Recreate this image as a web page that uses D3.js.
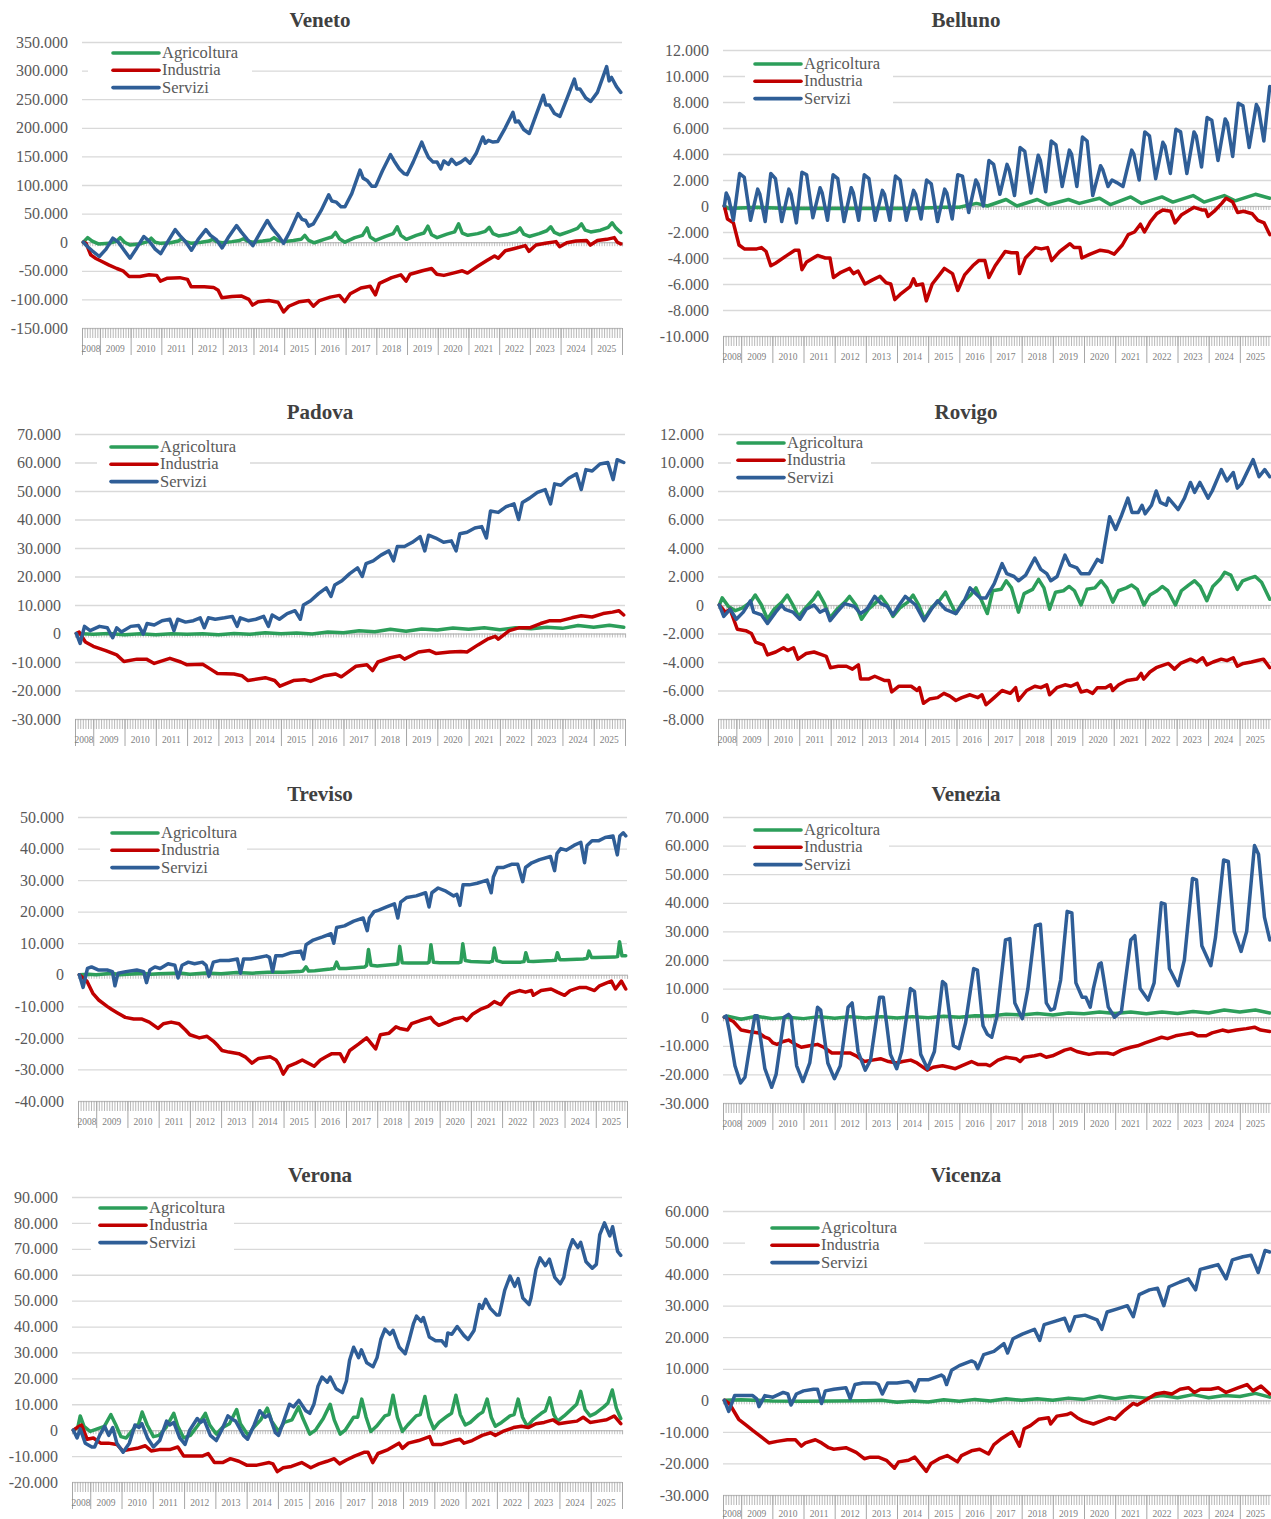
<!DOCTYPE html>
<html>
<head>
<meta charset="utf-8">
<script src="https://cdn.jsdelivr.net/npm/d3@7"></script>
<style>
  body { margin: 0; background: #fff; }
  svg { display: block; }
</style>
</head>
<body>
<div id="chart"></div>
<script>
// saldo cumulato posizioni lavorative dal giugno 2008, migliaia
// each point: [time in decimal years, value in thousands]
var seriesNames = ["Agricoltura", "Industria", "Servizi"],
    seriesColors = ["#2c9e5a", "#c00000", "#2f5e97"];

var yearLabels = d3.range(2008, 2026);

var venetoAgr = [[2008.46,0],[2008.6,8],[2008.75,2],[2008.95,-3],[2009.3,-2],[2009.55,2],[2009.66,8],[2009.8,0],[2009.98,-5],[2010.3,-3],[2010.55,1],[2010.67,7],[2010.8,0],[2010.98,-2],[2011.3,-1],[2011.55,2],[2011.67,6],[2011.8,1],[2011.98,-2],[2012.3,0],[2012.55,2],[2012.67,5],[2012.8,1],[2012.98,-1],[2013.3,1],[2013.55,3],[2013.67,6],[2013.8,2],[2013.98,0],[2014.3,2],[2014.55,4],[2014.67,8],[2014.8,3],[2014.98,1],[2015.3,3],[2015.55,5],[2015.67,12],[2015.8,3],[2015.98,-1],[2016.3,5],[2016.55,9],[2016.67,17],[2016.8,6],[2016.98,0],[2017.3,8],[2017.55,12],[2017.7,25],[2017.8,9],[2017.98,3],[2018.3,10],[2018.55,15],[2018.68,27],[2018.8,12],[2018.98,5],[2019.3,12],[2019.55,16],[2019.68,28],[2019.8,13],[2019.98,8],[2020.3,14],[2020.55,18],[2020.68,32],[2020.8,16],[2020.98,12],[2021.3,15],[2021.55,19],[2021.68,26],[2021.8,15],[2021.98,11],[2022.3,14],[2022.55,18],[2022.68,25],[2022.8,14],[2022.98,10],[2023.3,15],[2023.55,20],[2023.68,27],[2023.8,17],[2023.98,13],[2024.3,19],[2024.55,24],[2024.68,32],[2024.8,21],[2024.98,18],[2025.3,21],[2025.55,26],[2025.68,34],[2025.8,25],[2025.96,17]];
var venetoInd = [[2008.46,0],[2008.55,-2],[2008.7,-22],[2008.85,-28],[2009.0,-32],[2009.3,-40],[2009.55,-46],[2009.75,-50],[2009.95,-60],[2010.3,-60],[2010.6,-57],[2010.85,-58],[2010.97,-68],[2011.2,-63],[2011.6,-62],[2011.85,-65],[2011.97,-78],[2012.4,-78],[2012.7,-79],[2012.85,-84],[2012.97,-97],[2013.3,-95],[2013.6,-94],[2013.85,-100],[2013.97,-110],[2014.15,-104],[2014.5,-102],[2014.8,-105],[2014.98,-122],[2015.15,-112],[2015.5,-104],[2015.8,-102],[2015.95,-112],[2016.15,-102],[2016.5,-96],[2016.8,-93],[2016.97,-104],[2017.15,-90],[2017.5,-80],[2017.8,-77],[2017.97,-92],[2018.1,-72],[2018.5,-62],[2018.8,-57],[2018.97,-68],[2019.1,-56],[2019.5,-50],[2019.8,-46],[2019.97,-56],[2020.2,-58],[2020.5,-54],[2020.8,-50],[2020.97,-54],[2021.3,-42],[2021.6,-32],[2021.85,-24],[2021.97,-28],[2022.2,-15],[2022.5,-11],[2022.85,-6],[2022.97,-16],[2023.2,-5],[2023.5,-2],[2023.85,1],[2023.97,-8],[2024.2,-1],[2024.5,2],[2024.85,3],[2024.97,-5],[2025.2,3],[2025.5,5],[2025.75,8],[2025.85,0],[2025.96,-3]];
var venetoSer = [[2008.46,0],[2008.6,-8],[2008.75,-15],[2008.98,-25],[2009.2,-12],[2009.42,7],[2009.6,0],[2009.8,-15],[2009.98,-28],[2010.2,-10],[2010.43,10],[2010.6,2],[2010.8,-12],[2010.98,-20],[2011.2,0],[2011.45,22],[2011.6,12],[2011.8,0],[2011.98,-14],[2012.2,5],[2012.45,22],[2012.6,12],[2012.8,4],[2012.98,-10],[2013.2,10],[2013.45,29],[2013.6,18],[2013.8,5],[2013.98,-6],[2014.2,15],[2014.45,38],[2014.6,25],[2014.8,12],[2014.98,-2],[2015.2,20],[2015.45,50],[2015.58,40],[2015.7,38],[2015.8,28],[2015.95,32],[2016.2,55],[2016.45,83],[2016.55,72],[2016.7,70],[2016.85,62],[2016.98,62],[2017.2,85],[2017.47,126],[2017.57,112],[2017.7,108],[2017.85,98],[2017.98,98],[2018.2,125],[2018.46,153],[2018.58,142],[2018.75,128],[2018.9,120],[2019.0,118],[2019.2,140],[2019.48,175],[2019.57,163],[2019.7,148],[2019.85,140],[2019.98,140],[2020.1,128],[2020.2,142],[2020.35,136],[2020.45,145],[2020.6,136],[2020.75,140],[2020.9,146],[2021.05,138],[2021.25,155],[2021.47,184],[2021.55,173],[2021.65,178],[2021.8,175],[2021.95,176],[2022.2,200],[2022.45,227],[2022.53,210],[2022.63,212],[2022.8,197],[2022.98,190],[2023.2,222],[2023.44,257],[2023.52,240],[2023.63,240],[2023.8,225],[2023.98,220],[2024.2,250],[2024.45,285],[2024.53,268],[2024.63,268],[2024.82,252],[2024.98,246],[2025.2,262],[2025.5,307],[2025.58,282],[2025.66,288],[2025.82,272],[2025.96,262]];

var bellunoAgr = [[2008.46,0],[2008.6,-0.2],[2009.5,-0.1],[2010.5,-0.2],[2011.5,-0.2],[2012.5,-0.2],[2013.5,-0.2],[2014.5,-0.2],[2015.5,-0.1],[2016.0,-0.1],[2016.55,0.2],[2016.9,0.0],[2017.5,0.5],[2017.85,0.0],[2018.5,0.5],[2018.85,0.1],[2019.5,0.5],[2019.85,0.2],[2020.5,0.6],[2020.85,0.1],[2021.5,0.7],[2021.85,0.2],[2022.5,0.7],[2022.85,0.3],[2023.5,0.8],[2023.85,0.3],[2024.5,0.8],[2024.85,0.4],[2025.5,0.9],[2025.96,0.6]];
var bellunoInd = [[2008.46,0],[2008.56,-1.0],[2008.75,-1.3],[2008.93,-3.0],[2009.1,-3.3],[2009.5,-3.3],[2009.65,-3.2],[2009.8,-3.5],[2009.95,-4.6],[2010.1,-4.4],[2010.47,-3.8],[2010.72,-3.4],[2010.85,-3.4],[2010.95,-4.9],[2011.1,-4.3],[2011.45,-3.8],[2011.7,-4.0],[2011.85,-4.0],[2011.96,-5.5],[2012.2,-5.1],[2012.48,-4.8],[2012.6,-5.2],[2012.75,-5.0],[2012.97,-6.0],[2013.2,-5.7],[2013.45,-5.4],[2013.65,-5.9],[2013.8,-6.0],[2013.93,-7.2],[2014.1,-6.8],[2014.42,-6.2],[2014.53,-5.6],[2014.62,-6.1],[2014.82,-6.0],[2014.94,-7.3],[2015.13,-6.0],[2015.39,-5.2],[2015.52,-4.8],[2015.78,-5.2],[2015.95,-6.5],[2016.17,-5.3],[2016.43,-4.6],[2016.62,-4.2],[2016.82,-4.2],[2016.95,-5.5],[2017.15,-4.6],[2017.47,-3.5],[2017.67,-3.6],[2017.86,-3.6],[2017.93,-5.2],[2018.12,-4.0],[2018.44,-3.2],[2018.63,-3.3],[2018.83,-3.2],[2018.96,-4.2],[2019.22,-3.5],[2019.55,-2.9],[2019.68,-3.2],[2019.87,-3.2],[2019.93,-4.0],[2020.2,-3.7],[2020.52,-3.4],[2020.78,-3.5],[2020.97,-3.7],[2021.23,-3.0],[2021.42,-2.2],[2021.62,-2.0],[2021.81,-1.4],[2021.94,-2.0],[2022.13,-1.2],[2022.33,-0.6],[2022.53,-0.3],[2022.78,-0.4],[2022.92,-1.3],[2023.12,-0.7],[2023.53,-0.1],[2023.78,-0.3],[2023.9,-0.3],[2023.98,-0.8],[2024.18,-0.4],[2024.42,0.2],[2024.56,0.6],[2024.77,0.3],[2024.93,-0.5],[2025.12,-0.4],[2025.4,-0.6],[2025.58,-1.1],[2025.78,-1.3],[2025.96,-2.2]];
var bellunoSer = [[2008.46,0],[2008.52,1.0],[2008.6,0.6],[2008.75,-1.1],[2008.95,2.5],[2009.1,2.2],[2009.3,-1.1],[2009.53,1.3],[2009.6,0.9],[2009.77,-1.2],[2009.95,2.5],[2010.1,2.1],[2010.3,-1.2],[2010.53,1.3],[2010.6,0.9],[2010.77,-1.3],[2010.95,2.6],[2011.1,2.4],[2011.3,-0.9],[2011.53,1.4],[2011.6,1.0],[2011.77,-1.1],[2011.95,2.4],[2012.1,2.1],[2012.3,-1.2],[2012.53,1.4],[2012.6,1.0],[2012.77,-1.1],[2012.95,2.4],[2013.1,2.1],[2013.3,-1.1],[2013.53,1.2],[2013.6,0.9],[2013.77,-1.1],[2013.95,2.3],[2014.1,2.0],[2014.3,-1.1],[2014.53,1.2],[2014.6,0.9],[2014.77,-1.0],[2014.95,2.0],[2015.1,1.7],[2015.3,-1.2],[2015.53,1.3],[2015.6,1.0],[2015.77,-1.0],[2015.95,2.4],[2016.1,2.3],[2016.3,-0.5],[2016.53,2.0],[2016.6,1.7],[2016.77,0.0],[2016.95,3.5],[2017.1,3.2],[2017.3,0.9],[2017.53,3.2],[2017.6,2.8],[2017.77,0.8],[2017.95,4.5],[2018.1,4.2],[2018.3,1.0],[2018.53,3.9],[2018.6,3.5],[2018.77,1.1],[2018.95,5.0],[2019.1,4.7],[2019.3,1.5],[2019.53,4.3],[2019.6,4.0],[2019.77,1.5],[2019.95,5.3],[2020.1,5.0],[2020.28,0.8],[2020.53,3.1],[2020.6,2.8],[2020.77,1.5],[2020.9,2.0],[2021.05,1.8],[2021.25,1.5],[2021.53,4.3],[2021.6,4.0],[2021.77,2.0],[2021.95,5.7],[2022.1,5.4],[2022.3,2.1],[2022.53,4.9],[2022.6,4.6],[2022.77,2.5],[2022.95,5.9],[2023.1,5.7],[2023.3,2.5],[2023.53,5.7],[2023.6,5.4],[2023.77,3.0],[2023.95,6.8],[2024.1,6.6],[2024.3,3.5],[2024.53,6.7],[2024.6,6.4],[2024.77,3.8],[2024.95,7.9],[2025.1,7.7],[2025.3,4.5],[2025.53,7.8],[2025.6,7.5],[2025.77,5.0],[2025.96,9.2]];

var padovaAgr = [[2008.46,0],[2009.0,-0.3],[2009.5,0],[2010.0,-0.4],[2010.5,-0.1],[2011.0,-0.4],[2011.5,-0.1],[2012.0,-0.3],[2012.5,-0.1],[2013.0,-0.4],[2013.5,0],[2014.0,-0.3],[2014.5,0.3],[2015.0,-0.1],[2015.5,0.2],[2016.0,-0.2],[2016.5,0.5],[2017.0,0.3],[2017.5,1.0],[2018.0,0.6],[2018.5,1.5],[2019.0,0.8],[2019.5,1.6],[2020.0,1.2],[2020.5,1.9],[2021.0,1.5],[2021.5,2.0],[2022.0,1.3],[2022.5,2.0],[2023.0,1.7],[2023.5,2.2],[2024.0,1.8],[2024.5,2.8],[2025.0,2.2],[2025.5,2.9],[2025.96,2.2]];
var padovaInd = [[2008.46,0],[2008.55,0.5],[2008.75,-3],[2009.0,-4.5],[2009.4,-6],[2009.75,-7.5],[2009.98,-9.8],[2010.4,-9],[2010.7,-9],[2010.95,-10.5],[2011.45,-8.7],[2011.8,-10],[2012.0,-11],[2012.5,-10.8],[2012.75,-12.5],[2012.97,-14],[2013.5,-14.2],[2013.75,-14.8],[2013.95,-16.5],[2014.5,-15.5],[2014.8,-16.5],[2014.97,-18.5],[2015.4,-16.5],[2015.75,-16.2],[2015.95,-16.8],[2016.4,-14.8],[2016.75,-14.2],[2016.93,-15.2],[2017.4,-11.5],[2017.75,-11],[2017.93,-13],[2018.1,-10],[2018.5,-8.5],[2018.8,-7.8],[2018.95,-9],[2019.4,-6.5],[2019.75,-6],[2019.95,-7],[2020.4,-6.5],[2020.75,-6.3],[2020.95,-6.5],[2021.3,-4],[2021.6,-2],[2021.85,-1],[2021.95,-2],[2022.3,1],[2022.6,2],[2022.95,2],[2023.3,3.5],[2023.6,4.5],[2023.95,4.5],[2024.3,5.5],[2024.6,6.2],[2024.95,5.8],[2025.3,7],[2025.6,7.5],[2025.8,8],[2025.96,6.5]];
var padovaSer = [[2008.46,0],[2008.58,-3.5],[2008.72,2.5],[2008.9,1.0],[2009.2,2.5],[2009.45,2.0],[2009.62,-1.5],[2009.75,2.0],[2009.9,0.5],[2010.2,2.5],[2010.45,2.8],[2010.6,-0.2],[2010.72,3.5],[2010.95,3.0],[2011.2,4.5],[2011.45,5.0],[2011.58,1.0],[2011.7,5.0],[2011.95,4.0],[2012.2,4.5],[2012.42,5.5],[2012.55,2.0],[2012.68,5.5],[2012.9,5.0],[2013.2,5.5],[2013.45,6.0],[2013.6,2.5],[2013.7,5.5],[2013.95,4.5],[2014.2,5.0],[2014.45,6.0],[2014.6,2.5],[2014.72,6.5],[2014.95,5.0],[2015.2,7.0],[2015.45,8.0],[2015.62,5.0],[2015.72,10.0],[2015.95,11.5],[2016.2,14.0],[2016.45,16.0],[2016.6,13.0],[2016.72,17.0],[2016.95,18.5],[2017.2,21.0],[2017.45,23.0],[2017.6,20.0],[2017.72,24.5],[2017.95,25.5],[2018.2,27.5],[2018.45,29.0],[2018.6,25.5],[2018.72,30.5],[2018.95,30.5],[2019.2,32.0],[2019.45,34.0],[2019.6,29.0],[2019.72,34.5],[2019.95,33.5],[2020.2,32.0],[2020.45,32.5],[2020.6,29.0],[2020.72,35.0],[2020.95,35.5],[2021.2,37.0],[2021.42,37.5],[2021.57,33.5],[2021.7,43.0],[2021.95,42.5],[2022.2,44.5],[2022.45,45.5],[2022.6,40.0],[2022.72,46.0],[2022.95,47.5],[2023.2,49.5],[2023.45,50.5],[2023.62,45.5],[2023.75,52.5],[2023.95,52.0],[2024.2,54.5],[2024.45,56.0],[2024.6,50.5],[2024.75,57.5],[2024.95,57.0],[2025.2,59.5],[2025.45,60.0],[2025.62,54.0],[2025.75,61.0],[2025.96,60.0]];

var rovigoAgr = [[2008.46,0],[2008.55,0.5],[2008.75,-0.1],[2008.97,-0.4],[2009.2,-0.2],[2009.45,0.2],[2009.6,0.7],[2009.8,0.0],[2009.99,-1.0],[2010.2,-0.3],[2010.45,0.2],[2010.62,0.7],[2010.8,0.0],[2010.98,-0.8],[2011.2,-0.2],[2011.45,0.4],[2011.6,0.9],[2011.8,0.1],[2011.98,-0.9],[2012.2,-0.3],[2012.45,0.2],[2012.6,0.6],[2012.8,0.0],[2012.98,-1.0],[2013.2,-0.3],[2013.45,0.2],[2013.6,0.6],[2013.8,0.0],[2013.98,-0.8],[2014.2,-0.2],[2014.45,0.2],[2014.62,0.7],[2014.8,0.0],[2014.98,-1.0],[2015.2,-0.2],[2015.45,0.3],[2015.65,0.9],[2015.82,0.1],[2015.98,-0.6],[2016.2,0.2],[2016.45,0.7],[2016.62,1.2],[2016.8,0.3],[2016.98,-0.6],[2017.15,1.0],[2017.42,1.1],[2017.58,1.7],[2017.75,1.2],[2017.97,-0.5],[2018.15,0.8],[2018.42,1.1],[2018.61,1.8],[2018.78,1.2],[2018.96,-0.3],[2019.15,0.9],[2019.4,1.0],[2019.58,1.3],[2019.75,1.0],[2019.96,0.0],[2020.15,1.1],[2020.4,1.2],[2020.6,1.7],[2020.78,1.2],[2020.97,0.2],[2021.15,1.0],[2021.4,1.2],[2021.57,1.4],[2021.75,1.1],[2021.96,0.0],[2022.15,0.7],[2022.38,1.0],[2022.54,1.3],[2022.72,1.0],[2022.96,0.0],[2023.15,1.0],[2023.38,1.4],[2023.57,1.7],[2023.75,1.3],[2023.96,0.3],[2024.15,1.3],[2024.38,1.8],[2024.53,2.3],[2024.72,2.1],[2024.93,1.1],[2025.1,1.7],[2025.35,1.9],[2025.5,2.0],[2025.7,1.6],[2025.96,0.4]];
var rovigoInd = [[2008.46,0],[2008.65,-0.5],[2008.8,-0.3],[2009.03,-1.7],[2009.3,-1.8],[2009.48,-2.0],[2009.61,-2.6],[2009.86,-2.8],[2009.99,-3.5],[2010.25,-3.3],[2010.5,-3.0],[2010.63,-3.2],[2010.82,-3.0],[2010.96,-3.8],[2011.22,-3.4],[2011.47,-3.3],[2011.73,-3.5],[2011.86,-3.6],[2011.99,-4.4],[2012.24,-4.3],[2012.5,-4.3],[2012.69,-4.5],[2012.88,-4.2],[2012.95,-5.2],[2013.2,-5.2],[2013.4,-5.0],[2013.72,-5.3],[2013.85,-5.3],[2013.94,-6.1],[2014.17,-5.7],[2014.56,-5.7],[2014.75,-6.0],[2014.82,-5.8],[2014.95,-6.9],[2015.14,-6.6],[2015.4,-6.5],[2015.6,-6.2],[2015.79,-6.4],[2015.98,-6.7],[2016.17,-6.5],[2016.43,-6.3],[2016.68,-6.5],[2016.81,-6.3],[2016.94,-7.0],[2017.2,-6.5],[2017.45,-6.0],[2017.71,-6.2],[2017.88,-5.8],[2017.97,-6.7],[2018.23,-6.0],[2018.49,-5.7],[2018.68,-5.8],[2018.87,-5.6],[2018.96,-6.3],[2019.19,-5.8],[2019.45,-5.6],[2019.64,-5.7],[2019.84,-5.5],[2019.96,-6.1],[2020.15,-6.0],[2020.33,-6.2],[2020.48,-5.8],[2020.74,-5.8],[2020.9,-5.6],[2020.97,-6.0],[2021.16,-5.6],[2021.42,-5.3],[2021.74,-5.2],[2021.87,-4.8],[2021.95,-5.2],[2022.15,-4.7],[2022.35,-4.4],[2022.6,-4.2],[2022.74,-4.1],[2022.93,-4.5],[2023.12,-4.1],[2023.44,-3.8],[2023.64,-4.0],[2023.83,-3.7],[2023.96,-4.2],[2024.16,-4.0],[2024.42,-3.8],[2024.6,-3.9],[2024.8,-3.7],[2024.93,-4.3],[2025.12,-4.1],[2025.38,-4.0],[2025.57,-3.9],[2025.76,-3.8],[2025.96,-4.4]];
var rovigoSer = [[2008.46,0],[2008.6,-0.8],[2008.8,-0.3],[2009.0,-1.0],[2009.22,-0.5],[2009.45,0.3],[2009.55,-0.5],[2009.8,-0.7],[2009.99,-1.3],[2010.25,-0.5],[2010.44,0.0],[2010.55,-0.3],[2010.8,-0.5],[2011.02,-1.0],[2011.22,-0.3],[2011.47,0.0],[2011.66,-0.5],[2011.85,-0.3],[2011.98,-1.1],[2012.2,-0.5],[2012.44,0.1],[2012.75,-0.1],[2012.95,-0.6],[2013.15,-0.3],[2013.4,0.6],[2013.6,0.1],[2013.8,-0.1],[2013.98,-0.7],[2014.18,0.0],[2014.37,0.6],[2014.7,0.0],[2014.97,-1.1],[2015.2,-0.3],[2015.4,0.3],[2015.65,-0.3],[2015.98,-0.6],[2016.23,0.2],[2016.43,1.2],[2016.75,0.5],[2016.94,0.5],[2017.2,1.5],[2017.45,2.9],[2017.6,2.2],[2017.83,2.0],[2017.97,1.7],[2018.2,2.1],[2018.49,3.3],[2018.68,2.5],[2018.87,2.2],[2019.0,1.7],[2019.2,2.0],[2019.45,3.5],[2019.6,2.8],[2019.83,2.6],[2019.96,2.2],[2020.22,2.2],[2020.48,3.2],[2020.62,3.0],[2020.87,6.2],[2021.06,5.3],[2021.25,6.3],[2021.45,7.5],[2021.58,6.5],[2021.78,6.5],[2021.9,7.0],[2022.0,6.4],[2022.2,7.0],[2022.35,8.0],[2022.48,7.2],[2022.67,7.0],[2022.74,7.5],[2023.05,6.7],[2023.25,7.5],[2023.44,8.6],[2023.57,7.9],[2023.74,8.6],[2024.0,7.5],[2024.13,8.0],[2024.42,9.5],[2024.6,8.7],[2024.8,9.3],[2024.93,8.2],[2025.06,8.5],[2025.43,10.2],[2025.62,9.0],[2025.8,9.5],[2025.96,9.0]];

var trevisoAgr = [[2008.46,0],[2008.75,0.2],[2009.0,0],[2009.5,0.5],[2009.75,0],[2010.0,0.2],[2010.5,0.5],[2010.75,0.2],[2011.0,0.3],[2011.5,0.5],[2011.75,0.5],[2012.0,0.2],[2012.5,0.6],[2013.0,0.3],[2013.5,0.7],[2014.0,0.5],[2014.5,0.8],[2015.0,0.8],[2015.5,1.0],[2015.62,1.2],[2015.72,2.5],[2015.8,1.2],[2016.0,1.3],[2016.5,1.8],[2016.62,2.0],[2016.7,4.0],[2016.78,2.0],[2017.0,2.0],[2017.6,2.5],[2017.66,3.0],[2017.72,8.0],[2017.8,3.0],[2018.0,2.8],[2018.6,3.3],[2018.66,3.5],[2018.72,9.0],[2018.8,3.8],[2019.0,3.7],[2019.6,3.7],[2019.66,4.0],[2019.72,9.5],[2019.8,4.0],[2020.0,3.8],[2020.6,3.8],[2020.68,4.0],[2020.74,9.8],[2020.82,4.5],[2021.0,4.2],[2021.6,4.0],[2021.69,4.3],[2021.75,8.5],[2021.83,4.5],[2022.0,4.0],[2022.6,4.0],[2022.7,4.2],[2022.76,7.0],[2022.84,4.3],[2023.0,4.2],[2023.6,4.5],[2023.71,4.6],[2023.77,7.0],[2023.85,4.8],[2024.0,4.8],[2024.6,5.0],[2024.72,5.2],[2024.78,7.5],[2024.86,5.5],[2025.0,5.5],[2025.6,5.6],[2025.7,5.8],[2025.76,10.5],[2025.84,6.0],[2025.96,6.0]];
var trevisoInd = [[2008.46,0],[2008.7,-2],[2008.9,-6],[2009.08,-8],[2009.35,-10],[2009.5,-11],[2009.67,-12],[2009.93,-13.5],[2010.2,-14],[2010.45,-14],[2010.7,-15],[2010.98,-17],[2011.15,-15.5],[2011.4,-15],[2011.65,-15.5],[2011.86,-17.5],[2012.0,-19],[2012.3,-20],[2012.55,-19.5],[2012.75,-21],[2012.9,-22.5],[2013.03,-24],[2013.25,-24.5],[2013.57,-25],[2013.77,-26],[2013.99,-28],[2014.2,-26.5],[2014.57,-26],[2014.76,-27],[2014.86,-28.5],[2014.99,-31.5],[2015.15,-29],[2015.4,-28],[2015.6,-27],[2015.98,-29],[2016.18,-27],[2016.36,-26],[2016.55,-25],[2016.81,-25],[2016.95,-27.5],[2017.12,-24],[2017.4,-22],[2017.66,-20],[2017.95,-23.5],[2018.1,-19],[2018.38,-18.5],[2018.6,-16.5],[2018.72,-17],[2018.97,-17.5],[2019.1,-15.5],[2019.38,-14.5],[2019.71,-13.5],[2019.83,-15],[2019.97,-16],[2020.25,-15],[2020.48,-14],[2020.74,-13.5],[2020.87,-14.5],[2021.05,-12.5],[2021.3,-11],[2021.55,-10],[2021.75,-8.5],[2021.96,-9.5],[2022.1,-7.5],[2022.25,-6],[2022.55,-5],[2022.75,-5.5],[2022.94,-5],[2023.0,-6.5],[2023.25,-5],[2023.57,-4.5],[2023.77,-5.5],[2024.0,-6.5],[2024.18,-5],[2024.49,-4],[2024.68,-4],[2024.96,-5],[2025.12,-3.5],[2025.37,-2.5],[2025.5,-2],[2025.63,-4.5],[2025.82,-2],[2025.96,-4.5]];
var trevisoSer = [[2008.46,0],[2008.58,-4.0],[2008.72,2.0],[2008.85,2.5],[2009.08,1.5],[2009.35,1.5],[2009.52,1.0],[2009.6,-3.5],[2009.7,0.5],[2009.95,1.0],[2010.3,1.5],[2010.52,1.0],[2010.61,-2.5],[2010.72,1.5],[2010.88,2.5],[2011.05,2.0],[2011.3,3.5],[2011.52,3.0],[2011.62,-1.0],[2011.75,3.0],[2011.95,4.0],[2012.15,3.5],[2012.4,4.0],[2012.52,3.0],[2012.61,-0.5],[2012.75,4.0],[2012.95,4.5],[2013.25,4.5],[2013.52,5.0],[2013.62,0.5],[2013.72,5.0],[2013.95,5.0],[2014.2,5.5],[2014.45,6.0],[2014.55,5.5],[2014.65,1.0],[2014.75,6.0],[2014.95,6.0],[2015.25,7.0],[2015.55,7.5],[2015.64,5.0],[2015.72,9.5],[2015.95,11.0],[2016.25,12.0],[2016.52,13.0],[2016.61,10.0],[2016.7,15.0],[2016.95,15.5],[2017.25,17.0],[2017.55,18.0],[2017.68,14.0],[2017.75,18.0],[2017.9,20.0],[2018.05,20.5],[2018.3,21.5],[2018.55,22.5],[2018.66,18.0],[2018.75,23.0],[2018.95,24.5],[2019.25,25.0],[2019.55,26.0],[2019.66,21.5],[2019.75,26.0],[2019.95,27.5],[2020.2,26.5],[2020.45,25.0],[2020.55,25.5],[2020.65,22.0],[2020.75,28.5],[2020.95,28.5],[2021.2,29.0],[2021.52,30.0],[2021.65,26.0],[2021.72,31.0],[2021.85,34.0],[2022.05,34.0],[2022.3,35.0],[2022.5,35.0],[2022.66,29.5],[2022.75,34.0],[2022.95,35.5],[2023.2,36.5],[2023.55,37.5],[2023.68,33.0],[2023.76,38.5],[2023.88,40.0],[2024.05,39.5],[2024.3,41.0],[2024.52,42.0],[2024.64,35.5],[2024.72,41.0],[2024.88,42.5],[2025.1,42.5],[2025.3,43.5],[2025.55,44.0],[2025.69,38.0],[2025.77,44.0],[2025.88,45.0],[2025.96,44.0]];

var veneziaAgr = [[2008.46,0],[2008.6,0.3],[2009.0,-0.7],[2009.5,0.3],[2010.0,-0.5],[2010.5,0],[2011.0,-0.5],[2011.5,0.2],[2012.0,-0.4],[2012.5,0.2],[2013.0,-0.3],[2013.5,0.2],[2014.0,-0.3],[2014.5,0.2],[2015.0,-0.2],[2015.5,0.3],[2016.0,0],[2016.5,0.5],[2017.0,0.4],[2017.5,1.0],[2018.0,0.8],[2018.5,1.3],[2019.0,0.8],[2019.5,1.5],[2020.0,1.2],[2020.5,1.8],[2021.0,1.3],[2021.5,1.8],[2022.0,1.2],[2022.5,1.8],[2023.0,1.3],[2023.5,2.0],[2024.0,1.5],[2024.5,2.5],[2025.0,1.8],[2025.5,2.5],[2025.96,1.5]];
var veneziaInd = [[2008.46,0],[2008.75,-1.5],[2009.0,-4.5],[2009.24,-5],[2009.57,-5.5],[2009.76,-7],[2009.89,-7.5],[2010.02,-9],[2010.15,-9.5],[2010.35,-8.5],[2010.52,-8],[2010.74,-9.5],[2010.93,-10.5],[2011.19,-10],[2011.45,-9.5],[2011.65,-10.5],[2011.91,-12.5],[2012.23,-12.5],[2012.49,-12.5],[2012.69,-13.5],[2012.95,-15.5],[2013.21,-15],[2013.47,-14.5],[2013.73,-15.5],[2013.99,-16],[2014.18,-15.5],[2014.44,-15],[2014.64,-16],[2014.97,-18.5],[2015.16,-17.5],[2015.46,-17],[2015.68,-17.5],[2015.87,-18],[2016.07,-17],[2016.39,-15.5],[2016.59,-16.5],[2016.85,-16.5],[2016.98,-17],[2017.24,-15],[2017.5,-14],[2017.82,-14.5],[2017.95,-15.5],[2018.08,-14],[2018.41,-13.5],[2018.6,-13],[2018.79,-14],[2018.99,-13.5],[2019.38,-11.5],[2019.57,-11],[2019.77,-12],[2019.96,-12.5],[2020.16,-13],[2020.42,-12.5],[2020.75,-12.5],[2020.94,-13],[2021.2,-11.5],[2021.5,-10.5],[2021.72,-10],[2021.96,-9],[2022.22,-8],[2022.49,-7],[2022.68,-7.5],[2022.94,-6.5],[2023.2,-6],[2023.46,-5.5],[2023.66,-6.5],[2023.92,-6.5],[2024.11,-5.5],[2024.44,-4.5],[2024.63,-5],[2024.89,-4.5],[2025.21,-4],[2025.47,-3.5],[2025.67,-4.5],[2025.96,-5]];
var veneziaSer = [[2008.46,0],[2008.52,0.5],[2008.62,-5],[2008.8,-17],[2008.98,-23],[2009.12,-21],[2009.28,-10],[2009.44,0.5],[2009.52,0.5],[2009.76,-18],[2009.98,-24.5],[2010.12,-20],[2010.38,0],[2010.52,1],[2010.6,0],[2010.78,-17],[2010.98,-22.5],[2011.2,-16],[2011.45,3.5],[2011.55,2.5],[2011.78,-16],[2011.99,-21.5],[2012.18,-17],[2012.43,3.5],[2012.56,5],[2012.75,-12],[2012.98,-18.5],[2013.15,-15],[2013.44,7],[2013.56,7],[2013.79,-13],[2013.99,-18],[2014.15,-12],[2014.43,10],[2014.56,9],[2014.76,-13],[2014.98,-18],[2015.2,-12],[2015.46,12.5],[2015.56,11.5],[2015.81,-10],[2015.99,-11],[2016.2,-2],[2016.46,17],[2016.58,16.5],[2016.76,-3],[2016.9,-6],[2017.04,-7],[2017.2,0],[2017.48,27],[2017.62,27.5],[2017.78,5],[2018.02,-0.5],[2018.2,10],[2018.44,32],[2018.6,32.5],[2018.79,5],[2018.93,2.5],[2019.05,3],[2019.25,13],[2019.46,37],[2019.61,36.5],[2019.74,12],[2019.94,7],[2020.06,7],[2020.2,3.5],[2020.3,10],[2020.48,18.5],[2020.55,19],[2020.78,3.5],[2020.98,0],[2021.2,2],[2021.5,27],[2021.63,28.5],[2021.8,10],[2022.06,6],[2022.25,12],[2022.48,40],[2022.6,39.5],[2022.74,17],[2023.02,11],[2023.22,20],[2023.48,48.5],[2023.61,48],[2023.78,25],[2024.07,18],[2024.22,28],[2024.48,55],[2024.63,54.5],[2024.82,30],[2025.04,23],[2025.22,30],[2025.47,60],[2025.6,57],[2025.79,35],[2025.96,27]];

var veronaAgr = [[2008.46,0],[2008.6,1],[2008.68,5.5],[2008.8,1.5],[2009.0,-0.5],[2009.45,1.5],[2009.66,6],[2009.82,2],[2009.98,-2.5],[2010.15,-3],[2010.42,1],[2010.55,2.5],[2010.66,7],[2010.82,2],[2011.02,-2.5],[2011.2,-2],[2011.42,1],[2011.67,6.5],[2011.8,1.5],[2011.99,-3],[2012.2,-2],[2012.45,2],[2012.68,6.5],[2012.82,2],[2013.03,-1.5],[2013.22,1],[2013.45,2.5],[2013.68,8],[2013.8,2.5],[2014.05,-2],[2014.22,1],[2014.45,4],[2014.66,8.5],[2014.8,3.5],[2015.02,-0.5],[2015.2,3],[2015.45,4],[2015.66,9],[2015.8,4.5],[2016.02,-1.5],[2016.2,0],[2016.45,4.5],[2016.67,10],[2016.8,4],[2016.99,-1.5],[2017.15,0],[2017.42,5],[2017.55,5],[2017.68,12],[2017.82,5],[2017.97,-0.5],[2018.15,1.5],[2018.42,5.5],[2018.55,6],[2018.68,13.5],[2018.82,5],[2018.98,-0.5],[2019.15,2],[2019.42,5.5],[2019.55,6],[2019.7,13],[2019.83,5],[2019.98,0.5],[2020.15,3],[2020.42,5.5],[2020.55,6.5],[2020.69,13.5],[2020.83,6],[2020.99,2],[2021.15,3],[2021.42,6],[2021.55,7],[2021.69,12],[2021.82,5],[2021.95,1.5],[2022.15,3],[2022.42,5.5],[2022.55,6],[2022.68,12],[2022.82,5],[2022.97,1.5],[2023.15,4],[2023.42,6.5],[2023.55,7.5],[2023.69,12.5],[2023.82,6],[2023.94,3.5],[2024.15,5.5],[2024.42,8.5],[2024.55,10],[2024.68,15],[2024.82,8],[2024.98,5.5],[2025.15,6.5],[2025.42,9],[2025.55,10.5],[2025.69,15.5],[2025.82,8.5],[2025.96,4.5]];
var veronaInd = [[2008.46,0],[2008.58,1],[2008.72,2],[2008.9,-3.5],[2009.1,-3],[2009.33,-5],[2009.58,-5],[2009.85,-5.5],[2010.04,-8],[2010.24,-7.5],[2010.5,-7],[2010.76,-6],[2010.95,-8],[2011.21,-7.5],[2011.54,-7.5],[2011.8,-6.5],[2011.99,-10],[2012.25,-10],[2012.58,-10],[2012.77,-9],[2012.97,-12.5],[2013.23,-12.5],[2013.48,-11],[2013.75,-12],[2014.0,-13.5],[2014.33,-13.5],[2014.72,-12.5],[2014.84,-13],[2014.98,-16],[2015.17,-14.5],[2015.43,-14],[2015.76,-12.5],[2016.05,-14.5],[2016.31,-13],[2016.57,-12],[2016.8,-11],[2016.97,-13],[2017.19,-11.5],[2017.45,-10],[2017.77,-8.5],[2017.88,-8.5],[2018.03,-12.5],[2018.2,-9],[2018.52,-7.5],[2018.87,-5],[2018.98,-7],[2019.17,-5],[2019.5,-4],[2019.85,-2.5],[2019.95,-5.5],[2020.24,-5.5],[2020.63,-4],[2020.82,-3.5],[2020.95,-5],[2021.21,-4],[2021.53,-2],[2021.8,-1],[2021.95,-2],[2022.19,-0.5],[2022.53,1],[2022.79,1.5],[2023.0,1],[2023.25,2.5],[2023.51,3],[2023.79,4],[2023.98,2.5],[2024.23,3],[2024.56,3.5],[2024.76,5],[2024.98,3],[2025.25,3.5],[2025.51,4],[2025.75,5.5],[2025.96,2.5]];
var veronaSer = [[2008.46,0],[2008.58,-3],[2008.68,0.5],[2008.84,-5],[2009.05,-6.5],[2009.14,-6.5],[2009.3,-2],[2009.46,1.5],[2009.59,-2],[2009.72,1],[2009.85,-5],[2010.05,-8.5],[2010.25,-5],[2010.43,2],[2010.56,1],[2010.65,2.5],[2010.83,-3],[2011.02,-6.5],[2011.22,-4],[2011.44,3.5],[2011.54,2],[2011.67,3],[2011.86,-3],[2012.03,-5.5],[2012.18,0],[2012.42,4.5],[2012.53,3],[2012.64,4],[2012.84,-2],[2013.03,-4],[2013.2,0],[2013.4,5.5],[2013.57,4],[2013.65,3.5],[2013.9,-2],[2014.03,-3.5],[2014.24,2],[2014.42,7.5],[2014.59,5],[2014.72,6],[2014.92,-1],[2015.02,-2],[2015.17,3],[2015.37,10],[2015.5,9],[2015.67,11.5],[2015.89,7.5],[2016.02,6.5],[2016.15,10],[2016.28,17],[2016.41,20.5],[2016.58,18.5],[2016.67,20.5],[2016.86,16],[2017.06,14.5],[2017.19,19],[2017.29,27],[2017.42,32],[2017.58,28],[2017.67,31],[2017.84,26],[2018.04,24.5],[2018.17,28],[2018.29,35],[2018.42,39],[2018.58,37],[2018.68,38.5],[2018.88,32],[2019.07,29.5],[2019.2,35],[2019.33,41],[2019.43,44],[2019.58,42],[2019.65,43.5],[2019.84,36],[2020.04,34.5],[2020.24,34.5],[2020.37,32.5],[2020.43,37.5],[2020.56,37],[2020.73,40],[2020.95,36.5],[2021.08,35],[2021.27,38.5],[2021.44,48.5],[2021.53,47],[2021.64,50.5],[2021.79,47],[2021.99,44.5],[2022.08,44.5],[2022.25,54],[2022.42,59.5],[2022.57,55.5],[2022.68,58.5],[2022.83,51],[2023.03,48.5],[2023.09,51],[2023.25,62],[2023.38,66.5],[2023.55,63.5],[2023.68,66],[2023.85,59],[2024.03,56.5],[2024.14,59],[2024.29,69],[2024.42,73.5],[2024.59,70.5],[2024.68,72.5],[2024.85,65],[2025.05,62.5],[2025.18,64],[2025.29,75.5],[2025.44,80],[2025.61,75],[2025.7,78.5],[2025.86,69],[2025.96,67.5]];

var vicenzaAgr = [[2008.46,0],[2009.0,0.2],[2010.0,-0.2],[2011.0,-0.3],[2012.0,-0.2],[2013.0,-0.1],[2013.5,0],[2014.0,-0.6],[2014.5,-0.2],[2015.0,-0.5],[2015.5,0.2],[2016.0,-0.3],[2016.5,0.3],[2017.0,-0.2],[2017.5,0.5],[2018.0,0],[2018.5,0.5],[2019.0,0],[2019.5,0.7],[2020.0,0.3],[2020.5,1.3],[2021.0,0.5],[2021.5,1.2],[2022.0,0.7],[2022.5,1.5],[2023.0,0.8],[2023.5,1.8],[2024.0,0.8],[2024.5,1.5],[2025.0,1.2],[2025.5,2.2],[2025.96,1.0]];
var vicenzaInd = [[2008.46,0],[2008.62,-1],[2008.92,-6],[2009.18,-8],[2009.37,-9.5],[2009.57,-11],[2009.89,-13.5],[2010.15,-13],[2010.48,-12.5],[2010.74,-12.5],[2010.93,-14.5],[2011.06,-13.5],[2011.38,-12.5],[2011.58,-13.5],[2011.81,-15],[2011.97,-15.5],[2012.36,-15],[2012.69,-16.5],[2012.95,-18.5],[2013.14,-18],[2013.4,-18],[2013.66,-19],[2013.92,-21.5],[2014.05,-19.5],[2014.37,-19],[2014.57,-18],[2014.94,-22.5],[2015.09,-20],[2015.35,-18.5],[2015.61,-17.5],[2015.94,-19.5],[2016.07,-17.5],[2016.39,-16],[2016.65,-15.5],[2016.94,-17],[2017.11,-14],[2017.37,-12],[2017.69,-10],[2017.93,-14.5],[2018.08,-9],[2018.28,-8],[2018.54,-6],[2018.86,-5.5],[2018.93,-7.5],[2019.13,-5],[2019.45,-4.5],[2019.58,-4],[2019.78,-5.5],[2019.97,-6.5],[2020.3,-7.5],[2020.56,-6.5],[2020.82,-5.5],[2021.0,-6],[2021.26,-3.5],[2021.58,-1],[2021.71,-1.5],[2022.05,0.5],[2022.3,2],[2022.57,2.5],[2022.82,2],[2023.08,3.5],[2023.35,4],[2023.54,2.5],[2023.74,3.5],[2024.07,3.5],[2024.31,4],[2024.56,2.5],[2024.96,4],[2025.23,5],[2025.42,3],[2025.68,4.5],[2025.96,2]];
var vicenzaSer = [[2008.46,0],[2008.6,-3.5],[2008.79,1.5],[2009.05,1.5],[2009.37,1.5],[2009.5,0.5],[2009.57,-2],[2009.76,1.5],[2010.02,1],[2010.35,2.5],[2010.5,2],[2010.6,-1.5],[2010.77,2],[2011.0,3],[2011.32,3.5],[2011.45,3.5],[2011.58,-1],[2011.7,3],[2011.97,3.5],[2012.36,4],[2012.5,0.5],[2012.65,5],[2012.9,5.5],[2013.3,5.5],[2013.4,5],[2013.53,2],[2013.7,5.5],[2014.0,5.5],[2014.34,6],[2014.45,5.5],[2014.57,3],[2014.7,6.5],[2015.0,6.5],[2015.42,8],[2015.5,7.5],[2015.59,5],[2015.75,9.5],[2016.0,11],[2016.39,12.5],[2016.5,12],[2016.59,10],[2016.78,14.5],[2017.11,15.5],[2017.43,18],[2017.55,15],[2017.72,19.5],[2018.02,21],[2018.41,22.5],[2018.58,19],[2018.72,24],[2019.06,25],[2019.38,26],[2019.54,22],[2019.71,26.5],[2020.03,27],[2020.42,25.5],[2020.57,22.5],[2020.74,28],[2021.07,29],[2021.39,30],[2021.58,26.5],[2021.77,33.5],[2022.1,35],[2022.36,35.5],[2022.56,30],[2022.73,36],[2023.08,37.5],[2023.35,38.5],[2023.58,35],[2023.73,41.5],[2024.11,42.5],[2024.3,43],[2024.56,38.5],[2024.76,44.5],[2025.1,45.5],[2025.36,46],[2025.59,40.5],[2025.81,47.5],[2025.96,47]];

// y axis: [min, max, step]
var venetoY = [-150000, 350000, 50000],
    bellunoY = [-10000, 12000, 2000],
    padovaY = [-30000, 70000, 10000],
    rovigoY = [-8000, 12000, 2000],
    trevisoY = [-40000, 50000, 10000],
    veneziaY = [-30000, 70000, 10000],
    veronaY = [-20000, 90000, 10000],
    vicenzaY = [-30000, 60000, 10000];

// page layout of each small chart
var panels = [
    {name: "Veneto",  data: [venetoAgr, venetoInd, venetoSer],   y: venetoY,  x0: 82,  x1: 622,  top: 42,   bot: 328,  tx: 320, ty: 20,   lx: 113, ly: 53,   box: [88, 45, 164, 52]},
    {name: "Belluno", data: [bellunoAgr, bellunoInd, bellunoSer], y: bellunoY, x0: 723, x1: 1271, top: 50,   bot: 336,  tx: 966, ty: 20,   lx: 755, ly: 64,   box: [745, 55, 148, 51]},
    {name: "Padova",  data: [padovaAgr, padovaInd, padovaSer],   y: padovaY,  x0: 75,  x1: 625,  top: 434,  bot: 719,  tx: 320, ty: 412,  lx: 111, ly: 447,  box: [97, 437, 153, 51]},
    {name: "Rovigo",  data: [rovigoAgr, rovigoInd, rovigoSer],   y: rovigoY,  x0: 718, x1: 1271, top: 434,  bot: 719,  tx: 966, ty: 412,  lx: 738, ly: 443,  box: [731, 436, 140, 52]},
    {name: "Treviso", data: [trevisoAgr, trevisoInd, trevisoSer], y: trevisoY, x0: 78,  x1: 627,  top: 817,  bot: 1101, tx: 320, ty: 794,  lx: 112, ly: 833,  box: [100, 822, 147, 54]},
    {name: "Venezia", data: [veneziaAgr, veneziaInd, veneziaSer], y: veneziaY, x0: 723, x1: 1271, top: 817,  bot: 1103, tx: 966, ty: 794,  lx: 755, ly: 830,  box: [746, 819, 143, 52]},
    {name: "Verona",  data: [veronaAgr, veronaInd, veronaSer],   y: veronaY,  x0: 72,  x1: 622,  top: 1197, bot: 1482, tx: 320, ty: 1175, lx: 100, ly: 1208, box: [91, 1199, 143, 55]},
    {name: "Vicenza", data: [vicenzaAgr, vicenzaInd, vicenzaSer], y: vicenzaY, x0: 723, x1: 1271, top: 1211, bot: 1495, tx: 966, ty: 1175, lx: 772, ly: 1228, box: [745, 1216, 179, 56]}
];

var startT = 2008 + 5 / 12,   // giugno 2008
    endT = 2026,
    monthEdges = d3.range(0, 212).map(function (k) { return startT + k / 12; }),
    yearEdges = [startT].concat(d3.range(2009, 2027));

var itFormat = d3.formatLocale({decimal: ",", thousands: ".", grouping: [3], currency: ["€", ""], minus: "-"}).format(",.0f");

var svg = d3.select("#chart").append("svg")
    .attr("width", 1271)
    .attr("height", 1519)
    .style("font-family", "'Liberation Serif', 'DejaVu Serif', serif");

panels.forEach(function (p) {

    var x = d3.scaleLinear().domain([startT, endT]).range([p.x0, p.x1]);
    var y = d3.scaleLinear().domain([p.y[0], p.y[1]]).range([p.bot, p.top]);
    var g = svg.append("g");

    // gridlines + labels
    var yAxis = g.append("g")
        .attr("transform", "translate(" + p.x0 + ",0)")
        .call(d3.axisLeft(y)
            .tickValues(d3.range(p.y[0], p.y[1] + 1, p.y[2]))
            .tickSize(-(p.x1 - p.x0))
            .tickPadding(14)
            .tickFormat(itFormat));
    yAxis.select(".domain").remove();
    yAxis.selectAll(".tick line").attr("stroke", "#d9d9d9").attr("stroke-width", 1.3);
    yAxis.selectAll(".tick text")
        .attr("fill", "#595959")
        .style("font-size", "16px")
        .style("font-family", "'Liberation Serif', serif");

    // month ticks at the bottom
    var bottom = g.append("g")
        .attr("transform", "translate(0," + p.bot + ")")
        .call(d3.axisBottom(x).tickValues(monthEdges).tickSize(10).tickFormat(""));
    bottom.select(".domain").attr("stroke", "#bfbfbf");
    bottom.selectAll(".tick line").attr("stroke", "#a6a6a6").attr("stroke-width", 0.8);

    // year separators
    var years = g.append("g")
        .attr("transform", "translate(0," + p.bot + ")")
        .call(d3.axisBottom(x).tickValues(yearEdges).tickSize(27).tickFormat(""));
    years.select(".domain").remove();
    years.selectAll(".tick line").attr("stroke", "#a6a6a6").attr("stroke-width", 1);

    // keep the lowest row of year labels inside the page
    var labY = Math.min(p.bot + 24, 1517);
    g.selectAll(".yearlab")
        .data(yearLabels)
        .join("text")
        .attr("x", function (d) { return x(d === 2008 ? (startT + 2009) / 2 : d + 0.5); })
        .attr("y", labY)
        .attr("text-anchor", "middle")
        .attr("fill", "#7f7f7f")
        .style("font-size", "9.5px")
        .text(function (d) { return d; });

    // axis crossing at zero
    var zero = g.append("g")
        .attr("transform", "translate(0," + y(0) + ")")
        .call(d3.axisBottom(x).tickValues(monthEdges).tickSize(4).tickFormat(""));
    zero.select(".domain").attr("stroke", "#bfbfbf").attr("stroke-width", 1.2);
    zero.selectAll(".tick line").attr("stroke", "#b3b3b3").attr("stroke-width", 0.8);

    // legend (drawn over the gridlines with a white box)
    var leg = g.append("g");
    leg.append("rect")
        .attr("x", p.box[0]).attr("y", p.box[1])
        .attr("width", p.box[2]).attr("height", p.box[3])
        .attr("fill", "#fff");

    seriesNames.forEach(function (s, i) {
        var ly = p.ly + i * 17.3;
        leg.append("line")
            .attr("x1", p.lx).attr("x2", p.lx + 46)
            .attr("y1", ly).attr("y2", ly)
            .attr("stroke", seriesColors[i])
            .attr("stroke-width", 3.6)
            .attr("stroke-linecap", "round");
        leg.append("text")
            .attr("x", p.lx + 49)
            .attr("y", ly + 5)
            .attr("fill", "#595959")
            .style("font-size", "16.5px")
            .text(s);
    });

    // series lines
    var line = d3.line()
        .x(function (d) { return x(d[0]); })
        .y(function (d) { return y(d[1] * 1000); });

    p.data.forEach(function (d, i) {
        g.append("path")
            .datum(d)
            .attr("d", line)
            .attr("fill", "none")
            .attr("stroke", seriesColors[i])
            .attr("stroke-width", 3.5)
            .attr("stroke-linejoin", "round")
            .attr("stroke-linecap", "round");
    });

    // title
    g.append("text")
        .attr("x", p.tx)
        .attr("y", p.ty + 7)
        .attr("text-anchor", "middle")
        .attr("fill", "#404040")
        .style("font-size", "21px")
        .style("font-weight", "bold")
        .text(p.name);
});
</script>
</body>
</html>
